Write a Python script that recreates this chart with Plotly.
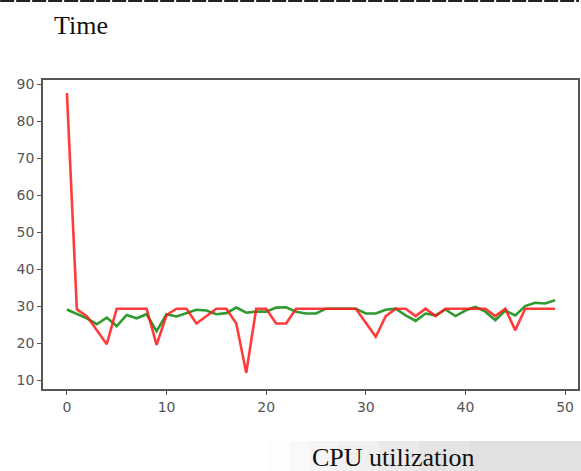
import plotly.graph_objects as go

x_vals = list(range(50))
red_vals = [87.6, 29.1, 27.3, 23.5, 19.7, 29.3, 29.3, 29.3, 29.3, 19.5,
            27.6, 29.3, 29.3, 25.3, 27.3, 29.3, 29.3, 25.3, 12.0, 29.3,
            29.3, 25.3, 25.3, 29.3, 29.3, 29.3, 29.3, 29.3, 29.3, 29.3,
            25.5, 21.7, 27.3, 29.3, 29.3, 27.3, 29.3, 27.3, 29.3, 29.3,
            29.3, 29.3, 29.3, 27.3, 29.3, 23.5, 29.3, 29.3, 29.3, 29.3]
green_vals = [29.1, 28.0, 26.7, 25.1, 26.9, 24.6, 27.6, 26.7, 27.8, 23.2,
              27.8, 27.2, 28.2, 29.0, 28.8, 27.8, 28.1, 29.6, 28.2, 28.5,
              28.5, 29.6, 29.7, 28.5, 28.0, 28.0, 29.3, 29.3, 29.3, 29.3,
              28.0, 28.0, 29.0, 29.3, 27.5, 26.0, 28.0, 27.5, 29.1, 27.3,
              28.8, 29.8, 28.5, 26.2, 28.8, 27.5, 30.0, 30.9, 30.7, 31.6]
x_ticks = [0, 10, 20, 30, 40, 50]
y_ticks = [10, 20, 30, 40, 50, 60, 70, 80, 90]
title_top = "Time"
title_bottom = "CPU utilization"

W, H = 581, 471
ML, MR, MT, MB = 43, 1, 80, 82
PW, PH = W - ML - MR, H - MT - MB

def px(xp):
    return (xp - ML) / PW

def py(yp):
    return (H - MB - yp) / PH

fig = go.Figure()
fig.add_trace(go.Scatter(x=x_vals, y=green_vals, mode="lines",
                         line=dict(color="#1a8f1a", width=2.6), opacity=0.9))
fig.add_trace(go.Scatter(x=x_vals, y=red_vals, mode="lines",
                         line=dict(color="#ff1a1a", width=2.6), opacity=0.85))

shapes = []
# faint watermark band at bottom right
steps = [(270, 0.06), (290, 0.15), (310, 0.25), (340, 0.4), (380, 0.55),
         (420, 0.7), (470, 0.8)]
for i, (x0, op) in enumerate(steps):
    x1 = steps[i + 1][0] if i + 1 < len(steps) else W + 2
    shapes.append(dict(type="rect", xref="paper", yref="paper",
                       x0=px(x0), x1=px(x1), y0=py(441), y1=py(H + 2),
                       fillcolor="#d9d9d9", opacity=op, line=dict(width=0),
                       layer="below"))
# top rule
shapes.append(dict(type="line", xref="paper", yref="paper",
                   x0=px(0), x1=px(W), y0=py(1), y1=py(1),
                   line=dict(color="#222222", width=2, dash="14px,2px")))
fig.update_layout(shapes=shapes)

fig.add_annotation(text=title_top, xref="paper", yref="paper",
                   x=px(52), y=py(25), xanchor="left", yanchor="middle",
                   showarrow=False,
                   font=dict(family="Liberation Serif, Times New Roman, serif",
                             size=26, color="#111111"))
fig.add_annotation(text=title_bottom, xref="paper", yref="paper",
                   x=px(311), y=py(457), xanchor="left", yanchor="middle",
                   showarrow=False,
                   font=dict(family="Liberation Serif, Times New Roman, serif",
                             size=26, color="#111111"))

axis_common = dict(showgrid=False, zeroline=False, showline=True,
                   linecolor="#555555", linewidth=1.5, mirror=True,
                   ticks="outside", ticklen=4, tickwidth=1.2, tickcolor="#555555",
                   tickfont=dict(family="DejaVu Sans", size=14, color="#555555"))
fig.update_xaxes(range=[-2.4, 51.3], tickvals=x_ticks, **axis_common)
fig.update_yaxes(range=[7.6, 91.1], tickvals=y_ticks, **axis_common)

fig.update_layout(width=W, height=H, showlegend=False,
                  margin=dict(l=ML, r=MR, t=MT, b=MB, pad=0),
                  paper_bgcolor="white", plot_bgcolor="white")

fig.write_html("out.html", config={"displayModeBar": False},
               post_script="document.body.style.margin='0';document.body.style.padding='0';")
